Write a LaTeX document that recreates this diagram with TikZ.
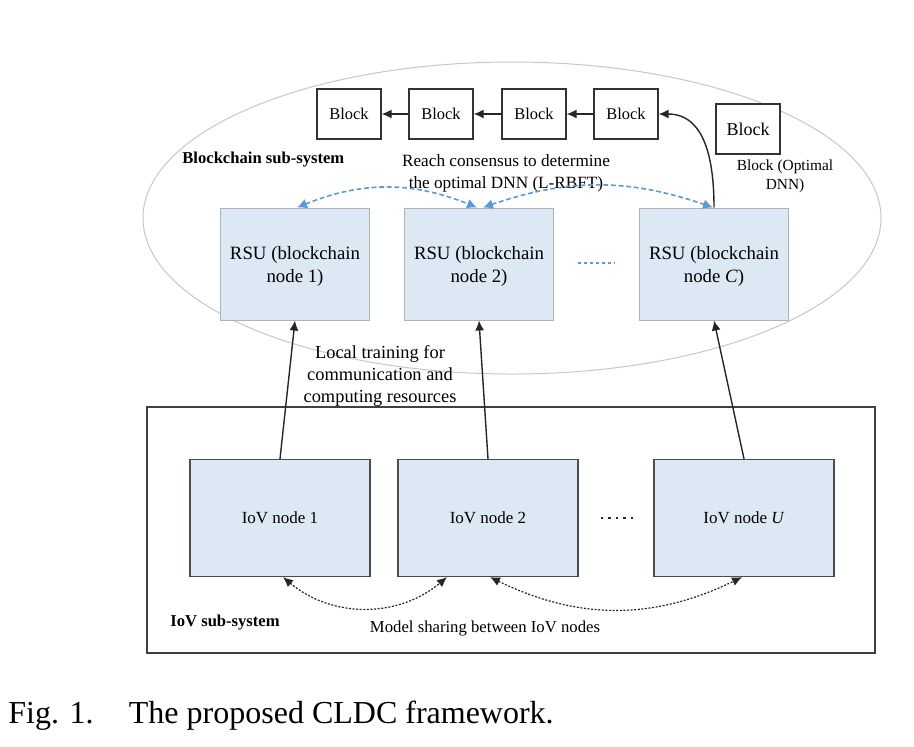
\documentclass[tikz,border=0pt]{standalone}
\usepackage{fontspec}
\setmainfont{Liberation Serif}
\usetikzlibrary{arrows.meta,calc}
\definecolor{rsufill}{RGB}{221,232,245}
\definecolor{consblue}{RGB}{91,155,213}
\begin{document}
\begin{tikzpicture}[
    x=0.5pt, y=-0.5pt,
    blk/.style={rectangle, draw=black!80, line width=0.6pt, fill=white,
      minimum width=32pt, minimum height=25pt, inner sep=0pt,
      font=\fontsize{8.2}{10}\selectfont},
    rsu/.style={rectangle, draw=black!30, line width=0.5pt, fill=rsufill,
      minimum width=74.5pt, minimum height=56pt, inner sep=1pt, align=center,
      text depth=-1pt, font=\fontsize{9.4}{11.5}\selectfont},
    iov/.style={rectangle, draw=black!70, line width=0.6pt, fill=rsufill,
      minimum width=90pt, minimum height=58.5pt, inner sep=1pt,
      font=\fontsize{8.5}{10}\selectfont},
    lab/.style={align=center, inner sep=0pt, font=\fontsize{8.6}{11}\selectfont},
    sub/.style={inner sep=0pt, font=\fontsize{8.3}{10}\selectfont\bfseries},
    chain/.style={-{Latex[length=5pt,width=4.5pt]}, line width=0.7pt, black!85},
    cons/.style={{Latex[length=5pt,width=5pt]}-{Latex[length=5pt,width=5pt]},
      consblue, dashed, dash pattern=on 2.4pt off 1.4pt, line width=0.8pt},
    share/.style={{Latex[length=5pt,width=4.5pt]}-{Latex[length=5pt,width=4.5pt]},
      black!85, dash pattern=on 1pt off 0.8pt, line width=0.6pt}]
  \useasboundingbox (0,0) rectangle (914,746);
  % blockchain sub-system
  \draw[black!22, line width=0.5pt] (512,218) ellipse [x radius=369, y radius=156];
  \draw[black!75, line width=0.6pt] (147,407) rectangle (875,653);
  % chain of blocks
  \node[blk] (blk1) at (349,114) {Block};
  \node[blk] (blk2) at (441,114) {Block};
  \node[blk] (blk3) at (534,114) {Block};
  \node[blk] (blk4) at (626,114) {Block};
  \node[blk, font=\fontsize{9}{11}\selectfont] (blkopt) at (748,129) {Block};
  \node[lab, font=\fontsize{7.7}{9.3}\selectfont] (optlab) at (785,176) {Block (Optimal\\DNN)};
  \draw[chain] (blk2) -- (blk1);
  \draw[chain] (blk3) -- (blk2);
  \draw[chain] (blk4) -- (blk3);
  % RSUs
  \node[rsu] (rsu1) at (295,264) {RSU (blockchain\\node 1)};
  \node[rsu] (rsu2) at (479,264) {RSU (blockchain\\node 2)};
  \node[rsu] (rsuC) at (714,264) {RSU (blockchain\\node \textit{C})};
  \draw[consblue, line width=1.4pt, dash pattern=on 1.4pt off 1.6pt]
    (578,263) -- (615,263);
  \node[sub, anchor=west] (bclab) at (182,160) {Blockchain sub-system};
  \node[lab] (conslab) at (506,173) {Reach consensus to determine\\the optimal DNN (L-RBFT)};
  \draw[cons] ($(rsu1.north)+(2,0)$) to[bend left=22] ($(rsu2.north)+(-2,0)$);
  \draw[cons] ($(rsu2.north)+(4,0)$) to[bend left=19] ($(rsuC.north)+(-1,0)$);
  \draw[chain] (rsuC.north) to[out=90, in=0, looseness=1.1] (blk4.east);
  % IoV sub-system
  \node[iov] (iov1) at (280,518) {IoV node 1};
  \node[iov] (iov2) at (488,518) {IoV node 2};
  \node[iov] (iovU) at (744,518) {IoV node \textit{U}};
  \draw[black!85, line width=1.2pt, dash pattern=on 1.2pt off 2.5pt]
    (601,518) -- (638,518);
  \draw[chain] (iov1.north) -- (rsu1.south);
  \draw[chain] (iov2.north) -- (rsu2.south);
  \draw[chain] (iovU.north) -- (rsuC.south);
  \node[lab, font=\fontsize{9.2}{11}\selectfont] (trainlab) at (380,376)
    {Local training for\\communication and\\computing resources};
  \draw[share] ($(iov1.south)+(3,0)$) to[bend right=40] ($(iov2.south)+(-41,0)$);
  \draw[share] ($(iov2.south)+(2,0)$) to[bend right=26] ($(iovU.south)+(-2,0)$);
  \node[sub, anchor=west] (iovlab) at (170,623) {IoV sub-system};
  \node[lab, font=\fontsize{8.35}{10}\selectfont] (sharelab) at (485,628)
    {Model sharing between IoV nodes};
  % caption
  \node[anchor=west, inner sep=0pt, font=\fontsize{16}{19}\selectfont] (cap)
    at (8,716) {Fig. 1.\hspace{1.1em}The proposed CLDC framework.};
\end{tikzpicture}
\end{document}
